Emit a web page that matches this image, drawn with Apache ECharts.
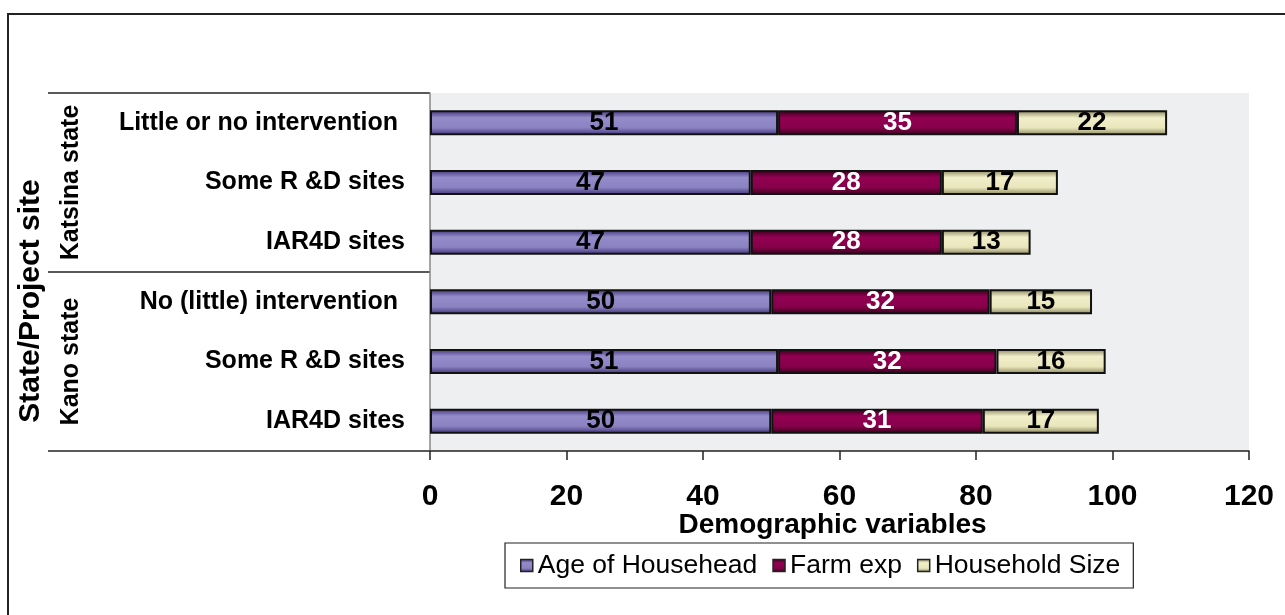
<!DOCTYPE html>
<html>
<head>
<meta charset="utf-8">
<script src="https://cdn.jsdelivr.net/npm/echarts@6/dist/echarts.min.js"></script>
<style>
html,body{margin:0;padding:0;background:#fff;}
#chart{width:1285px;height:615px;}
</style>
</head>
<body>
<div id="chart"></div>
<script>
// ---- data ----
var sites = ['Little or no intervention ', 'Some R &D sites', 'IAR4D sites',
             'No (little) intervention ', 'Some R &D sites', 'IAR4D sites'];
var groups = ['Katsina state', 'Kano state'];
var seriesNames = ['Age of Househead', 'Farm exp', 'Household Size'];
var ageOfHousehead = [51, 47, 47, 50, 51, 50];
var farmExp = [35, 28, 28, 32, 32, 31];
var householdSize = [22, 17, 13, 15, 16, 17];
var xTicks = [0, 20, 40, 60, 80, 100, 120];
var xTitle = 'Demographic variables';
var yTitle = 'State/Project site';

// ---- layout ----
var FONT = 'Arial, "Liberation Sans", Helvetica, sans-serif';
var gridLeft = 430, gridRight = 1249, gridTop = 93, gridBottom = 451;

function grad(edge, mid1, mid2) {
  return new echarts.graphic.LinearGradient(0, 0, 0, 1, [
    {offset: 0, color: edge},
    {offset: 0.3, color: mid1},
    {offset: 0.7, color: mid2},
    {offset: 1, color: edge}
  ]);
}

var colors = [
  grad('#3f3078', '#958dca', '#8a82c1'),
  grad('#33001a', '#920052', '#86004a'),
  grad('#86825a', '#f1eeca', '#e9e6bc')
];
var labelColors = ['#000', '#fff', '#000'];
var values = [ageOfHousehead, farmExp, householdSize];

var chart = echarts.init(document.getElementById('chart'), null, {renderer: 'canvas'});

var series = seriesNames.map(function (name, i) {
  return {
    name: name,
    type: 'bar',
    stack: 'total',
    barWidth: 25,
    data: values[i],
    itemStyle: {color: colors[i], borderColor: '#111', borderWidth: 2},
    label: {
      show: true,
      position: 'inside',
      color: labelColors[i],
      fontFamily: FONT,
      fontWeight: 'bold',
      fontSize: 26
    },
    emphasis: {disabled: true}
  };
});

var bandH = (gridBottom - gridTop) / sites.length;

var graphics = [
  // outer frame (top & left)
  {type: 'line', shape: {x1: 7, y1: 14, x2: 1285, y2: 14}, style: {stroke: '#222', lineWidth: 2}},
  {type: 'line', shape: {x1: 8, y1: 14, x2: 8, y2: 615}, style: {stroke: '#222', lineWidth: 2}},
  // group dividers
  {type: 'line', shape: {x1: 48, y1: gridTop, x2: gridLeft, y2: gridTop}, style: {stroke: '#222', lineWidth: 1.5}},
  {type: 'line', shape: {x1: 48, y1: gridTop + bandH * 3, x2: gridLeft, y2: gridTop + bandH * 3}, style: {stroke: '#222', lineWidth: 1.5}},
  {type: 'line', shape: {x1: 48, y1: gridBottom, x2: gridLeft, y2: gridBottom}, style: {stroke: '#222', lineWidth: 1.5}},
  // group labels
  {type: 'text', x: 71, y: gridTop + bandH * 1.5, rotation: Math.PI / 2,
   style: {text: groups[0], font: 'bold 25px ' + FONT, fill: '#000', textAlign: 'center', textVerticalAlign: 'middle'}},
  {type: 'text', x: 71, y: gridTop + bandH * 4.5, rotation: Math.PI / 2,
   style: {text: groups[1], font: 'bold 25px ' + FONT, fill: '#000', textAlign: 'center', textVerticalAlign: 'middle'}},
  // y axis title
  {type: 'text', x: 31, y: 301, rotation: Math.PI / 2,
   style: {text: yTitle, font: 'bold 30px ' + FONT, fill: '#000', textAlign: 'center', textVerticalAlign: 'middle'}},
  // x axis title
  {type: 'text', x: (gridLeft + gridRight) / 2 - 7, y: 525,
   style: {text: xTitle, font: 'bold 28px ' + FONT, fill: '#000', textAlign: 'center', textVerticalAlign: 'middle'}}
];

chart.setOption({
  animation: false,
  backgroundColor: '#ffffff',
  grid: {
    left: gridLeft, right: 1285 - gridRight, top: gridTop, bottom: 615 - gridBottom,
    show: true, backgroundColor: '#eeeff1', borderWidth: 0
  },
  xAxis: {
    type: 'value',
    min: xTicks[0], max: xTicks[xTicks.length - 1], interval: xTicks[1] - xTicks[0],
    axisLine: {show: true, lineStyle: {color: '#222', width: 1.5}},
    axisTick: {show: true, length: 9, inside: false, lineStyle: {color: '#222', width: 1.5}},
    splitLine: {show: false},
    axisLabel: {color: '#000', fontFamily: FONT, fontWeight: 'bold', fontSize: 30, margin: 31}
  },
  yAxis: {
    type: 'category',
    inverse: true,
    data: sites,
    axisLine: {show: true, lineStyle: {color: '#888', width: 1.5}},
    axisTick: {show: false},
    axisLabel: {
      color: '#000', fontFamily: FONT, fontWeight: 'bold', fontSize: 25, margin: 25,
      formatter: function (v, idx) { return sites[idx]; }
    }
  },
  legend: {
    left: 505, top: 543,
    padding: [9, 13, 9, 15],
    itemGap: 15,
    itemWidth: 12, itemHeight: 12,
    icon: 'rect',
    borderColor: '#222', borderWidth: 1.2,
    backgroundColor: '#fff',
    textStyle: {color: '#000', fontFamily: FONT, fontSize: 26.5},
    itemStyle: {borderColor: '#222', borderWidth: 1.5},
    data: seriesNames
  },
  series: series,
  graphic: graphics
});
</script>
</body>
</html>
